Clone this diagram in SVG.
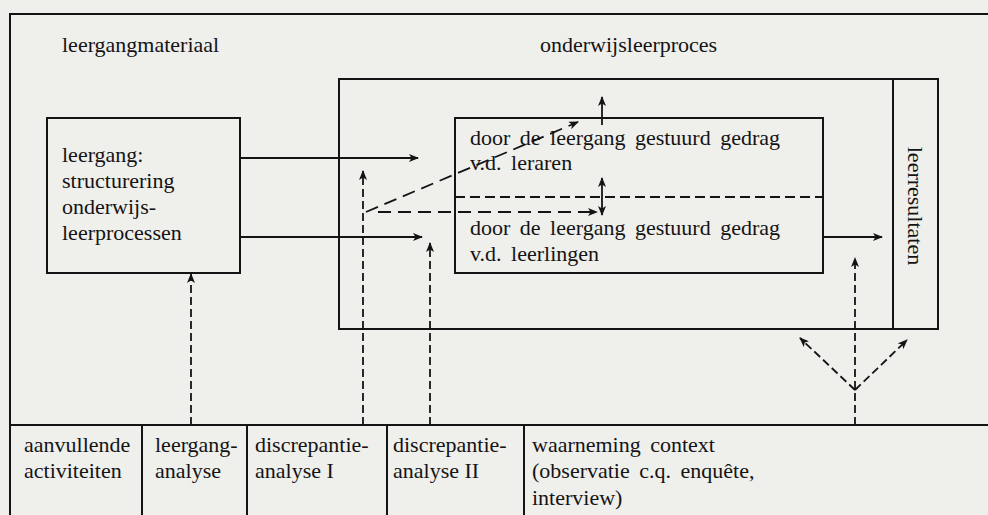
<svg xmlns="http://www.w3.org/2000/svg" width="988" height="515" viewBox="0 0 988 515">
<style>
text{font-family:"Liberation Serif","Times New Roman",serif;font-size:22px;fill:#141414}
.w{word-spacing:4px}
.box{fill:none;stroke:#141414;stroke-width:2}
.ln{fill:none;stroke:#141414;stroke-width:2}
.ar{fill:none;stroke:#141414;stroke-width:1.8;marker-end:url(#ah)}
.d1{stroke-dasharray:8 4}
.d2{stroke-dasharray:13 7}
</style>
<defs>
<marker id="ah" viewBox="0 0 10 8" refX="9" refY="4" markerWidth="10" markerHeight="8" orient="auto-start-reverse" markerUnits="userSpaceOnUse">
<path d="M0,0 L10,4 L0,8 L2.5,4 z" fill="#141414"/>
</marker>
</defs>
<rect width="988" height="515" fill="#efefec"/>
<g id="frame">
<path class="ln" d="M10,515 V14 H988"/>
<path class="ln" d="M10,425 H988"/>
<path class="ln" d="M142,425 V515 M247,425 V515 M387,425 V515 M524,425 V515"/>
</g>
<g id="leergangmateriaal">
<text x="62" y="52">leergangmateriaal</text>
</g>
<g id="leergang">
<rect class="box" x="47" y="118" width="193" height="155"/>
<text x="62" y="162">leergang:</text>
<text x="62" y="188">structurering</text>
<text x="62" y="214">onderwijs-</text>
<text x="62" y="240">leerprocessen</text>
</g>
<g id="onderwijsleerproces">
<text x="540" y="52">onderwijsleerproces</text>
<rect class="box" x="339" y="79" width="599" height="250"/>
</g>
<g id="gedrag">
<rect class="box" x="455" y="118" width="368" height="155"/>
<path class="ln" d="M455,197 H823" stroke-dasharray="10 5"/>
<text class="w" x="470" y="145">door de leergang gestuurd gedrag</text>
<text class="w" x="470" y="170">v.d. leraren</text>
<text class="w" x="470" y="235">door de leergang gestuurd gedrag</text>
<text class="w" x="470" y="261">v.d. leerlingen</text>
</g>
<g id="leerresultaten">
<path class="ln" d="M893,79 V329"/>
<text x="908" y="206" text-anchor="middle" transform="rotate(90 908 206)">leerresultaten</text>
</g>
<g id="bottom">
<text x="24" y="452">aanvullende</text>
<text x="24" y="478">activiteiten</text>
<text x="155" y="452">leergang-</text>
<text x="155" y="478">analyse</text>
<text x="255" y="452">discrepantie-</text>
<text x="255" y="478">analyse I</text>
<text x="393" y="452">discrepantie-</text>
<text x="393" y="478">analyse II</text>
<text class="w" x="532" y="452">waarneming context</text>
<text class="w" x="532" y="478">(observatie c.q. enquête,</text>
<text x="532" y="505">interview)</text>
</g>
<g id="connectors">
<path class="ar" d="M240,158 H418"/>
<path class="ar" d="M240,237 H422"/>
<path class="ar d1" d="M191,425 V274"/>
<path class="ar d1" d="M363,425 V171"/>
<path class="ar d2" d="M366,212 L578,122"/>
<path class="ar d2" d="M378,212 H597"/>
<path class="ar" d="M602,178 V215" marker-start="url(#ah)"/>
<path class="ar" d="M602,125 V97"/>
<path class="ar d1" d="M430,425 V243"/>
<path class="ar" d="M823,237 H882"/>
<path class="ar d1" d="M855,425 V258"/>
<path class="ar d1" d="M855,390 L800,338"/>
<path class="ar d1" d="M855,390 L907,340"/>
</g>
</svg>
